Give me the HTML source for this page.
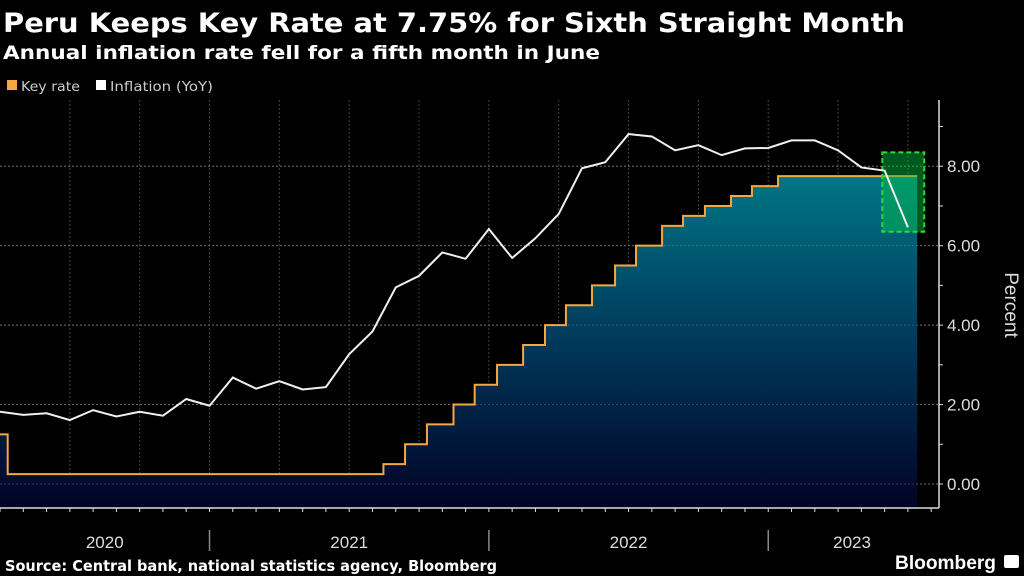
<!DOCTYPE html>
<html><head><meta charset="utf-8"><style>
body{margin:0;background:#000;}
svg{display:block;font-family:"Liberation Sans",sans-serif;}
.dv{font-family:"DejaVu Sans","Liberation Sans",sans-serif;}
</style></head><body>
<svg id="c" width="1024" height="576" viewBox="0 0 1024 576">
<defs><linearGradient id="g" x1="0" y1="0" x2="0" y2="1">
<stop offset="0" stop-color="#007684"/><stop offset="0.5" stop-color="#00385a"/><stop offset="1" stop-color="#020326"/></linearGradient></defs>
<text class="dv" x="3" y="32" fill="#fff" font-size="27" font-weight="bold" textLength="902" lengthAdjust="spacingAndGlyphs">Peru Keeps Key Rate at 7.75% for Sixth Straight Month</text>
<text class="dv" x="3" y="59" fill="#fff" font-size="19" font-weight="bold" textLength="597" lengthAdjust="spacingAndGlyphs">Annual inflation rate fell for a fifth month in June</text>
<g>
<rect x="7" y="80" width="10" height="10" fill="#f5a742"/>
<text class="dv" x="21" y="91" fill="#ccc" font-size="13" textLength="59" lengthAdjust="spacingAndGlyphs">Key rate</text>
<rect x="96" y="80" width="10" height="10" fill="#fff"/>
<text class="dv" x="110" y="91" fill="#ccc" font-size="13" textLength="103" lengthAdjust="spacingAndGlyphs">Inflation (YoY)</text>
</g>
<g id="grid"></g><g id="marks"></g><g id="axes"></g>
<text class="dv" x="5" y="571" fill="#fff" font-size="15" font-weight="bold" textLength="492" lengthAdjust="spacingAndGlyphs">Source: Central bank, national statistics agency, Bloomberg</text>
<text x="895" y="569" fill="#fff" font-size="19" font-weight="bold" textLength="101" lengthAdjust="spacingAndGlyphs">Bloomberg</text>
<rect x="1004" y="555" width="15" height="13" rx="2" fill="#fff"/>
</svg>
<script>
// Inflation YoY, monthly, index 0 = Mar 2020 ... 39 = Jun 2023
const inflation = [1.82,1.74,1.78,1.61,1.86,1.70,1.82,1.72,2.14,1.97,2.68,2.40,2.59,2.38,2.44,3.27,3.84,4.95,5.24,5.83,5.67,6.42,5.69,6.19,6.80,7.95,8.10,8.81,8.75,8.40,8.53,8.28,8.45,8.46,8.65,8.65,8.40,7.97,7.89,6.46];
// Key rate changes: position in month-index units and new rate
const rateDates = [0,0.33,16.47,17.40,18.34,19.48,20.39,21.35,22.47,23.41,24.31,25.43,26.42,27.32,28.44,29.34,30.28,31.40,32.30,33.42];
const rateValues = [1.25,0.25,0.5,1.0,1.5,2.0,2.5,3.0,3.5,4.0,4.5,5.0,5.5,6.0,6.5,6.75,7.0,7.25,7.5,7.75];
const rateEnd = 39.4;
const yTicks = [0,2,4,6,8];
const yTickLabels = ["0.00","2.00","4.00","6.00","8.00"];
const years = ["2020","2021","2022","2023"];
const yearBreaks = [9,21,33];
const yearCenters = [4.5,15,27,36.6];
const highlight = {i0:37.9, i1:39.7, v0:6.35, v1:8.35};

const NS="http://www.w3.org/2000/svg";
const X0=0, DX=23.28, Y0=484, DY=39.72, AXX=939, AXY=508, TOP=100;
const x=i=>X0+i*DX, y=v=>Y0-v*DY;
function mk(parent,tag,attrs){const e=document.createElementNS(NS,tag);for(const k in attrs)e.setAttribute(k,attrs[k]);document.getElementById(parent).appendChild(e);return e;}

yTicks.forEach(v=>{const e=mk('grid','line',{x1:0,x2:AXX,y1:y(v),y2:y(v),stroke:'#555','stroke-dasharray':'2,2','stroke-width':1});

});
for(let i=3;i<=39;i+=3){const e=mk('grid','line',{x1:x(i),x2:x(i),y1:TOP,y2:AXY,stroke:'#444','stroke-dasharray':'2,2','stroke-width':1});

}

let d=`M${x(rateDates[0])},${y(rateValues[0])}`;
for(let k=1;k<rateDates.length;k++){d+=` L${x(rateDates[k])},${y(rateValues[k-1])} L${x(rateDates[k])},${y(rateValues[k])}`;}
d+=` L${x(rateEnd)},${y(rateValues[rateValues.length-1])}`;
const area=mk('marks','path',{d:d+` L${x(rateEnd)},${AXY} L${x(0)},${AXY} Z`,fill:'url(#g)',stroke:'none'});


yTicks.forEach(v=>{const e=mk('marks','line',{x1:0,x2:AXX,y1:y(v),y2:y(v),stroke:'rgba(150,150,150,0.35)','stroke-dasharray':'2,2'});

});
const rl=mk('marks','path',{d:d,fill:'none',stroke:'#f5a742','stroke-width':2});



const hb=mk('marks','rect',{x:x(highlight.i0),y:y(highlight.v1),width:x(highlight.i1)-x(highlight.i0),height:y(highlight.v0)-y(highlight.v1),fill:'rgba(0,200,70,0.45)',stroke:'#22e030','stroke-width':2,'stroke-dasharray':'5,3'});



const il=mk('marks','polyline',{points:inflation.map((v,i)=>`${x(i)},${y(v)}`).join(' '),fill:'none',stroke:'#f0f0f0','stroke-width':2});



const ya=mk('axes','line',{x1:AXX,x2:AXX,y1:TOP,y2:AXY,stroke:'#ddd','stroke-width':1.5});


const xa=mk('axes','line',{x1:0,x2:AXX,y1:AXY,y2:AXY,stroke:'#ddd','stroke-width':1.5});


for(let v=0;v<=9;v++){const t=mk('axes','line',{x1:AXX,x2:AXX+4,y1:y(v),y2:y(v),stroke:'#ddd'});

}
yTicks.forEach((v,k)=>{const t=mk('axes','text',{x:AXX+8,y:y(v)+6,fill:'#ddd','font-size':17});t.textContent=yTickLabels[k];

});
const yt=mk('axes','text',{x:1005,y:305,fill:'#ddd','font-size':19,'text-anchor':'middle',transform:'rotate(90 1005 305)'});yt.textContent='Percent';


for(let i=0;i<=40;i++){const t=mk('axes','line',{x1:x(i),x2:x(i),y1:AXY,y2:AXY+4,stroke:'#ddd'});

}
yearBreaks.forEach(i=>{const t=mk('axes','line',{x1:x(i),x2:x(i),y1:530,y2:551,stroke:'#888','stroke-width':1.5});

});
years.forEach((s,k)=>{const t=mk('axes','text',{x:x(yearCenters[k]),y:548,fill:'#ddd','font-size':17,'text-anchor':'middle'});t.textContent=s;

});
</script>
</body></html>
